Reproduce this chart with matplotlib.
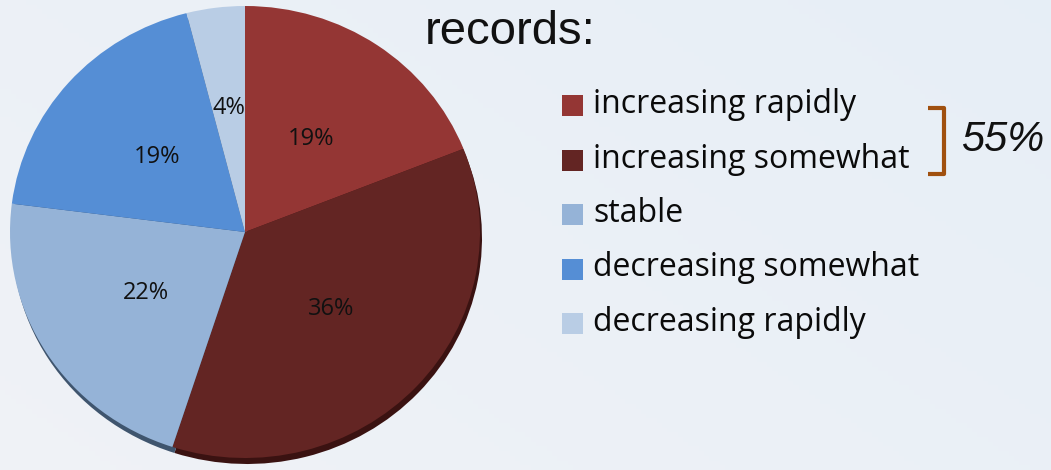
import matplotlib
matplotlib.use("Agg")
import matplotlib.pyplot as plt
import numpy as np
from matplotlib.patches import Rectangle

# Datos del gráfico
categories = ["increasing rapidly", "increasing somewhat", "stable",
              "decreasing somewhat", "decreasing rapidly"]
shares = [19, 36, 22, 19, 4]
colors = ["#943634", "#632523", "#95B3D7", "#558ED5", "#B9CDE5"]
shadow_colors = ["#4a1a19", "#3a1211", "#3f556e", "#2f4f78", "#6a7d92"]
group_label = "55%"
title_text = "records:"

W, H = 1051, 470
fig = plt.figure(figsize=(W / 100, H / 100), dpi=100)

# fondo con degradado suave
bg = fig.add_axes([0, 0, 1, 1])
gx = np.linspace(0, 1, 200)
gy = np.linspace(0, 1, 100)
GX, GY = np.meshgrid(gx, gy)
c0 = np.array([0.940, 0.950, 0.965])
c1 = np.array([0.905, 0.935, 0.965])
t = np.clip(0.6 * GX + 0.4 * (1 - GY), 0, 1)[..., None]
bg.imshow(c0 * (1 - t) + c1 * t, extent=[0, 1, 0, 1], aspect="auto", origin="upper")
bg.axis("off")

# ejes en píxeles; el eje y se estira un poco para que la tarta quede achatada
R, RY = 235, 226
ky = R / RY
ax = fig.add_axes([0, 0, 1, 1])

cx, cy = 245, (470 - 232) * ky

# canto oscuro (efecto 3D)
ax.pie(shares, colors=shadow_colors, startangle=90, counterclock=False,
       center=(cx + 2, cy - 6 * ky), radius=R, frame=True,
       wedgeprops=dict(linewidth=0))

wedges, _, autotexts = ax.pie(
    shares, colors=colors, startangle=90, counterclock=False,
    center=(cx, cy), radius=R, frame=True,
    autopct=lambda p: f"{p:.0f}%", pctdistance=0.5,
    wedgeprops=dict(linewidth=0),
    textprops=dict(fontsize=17, color="#111111", family="Open Sans"))

# la etiqueta del 4 % va algo más afuera, como en el original
w = wedges[-1]
ang = np.deg2rad((w.theta1 + w.theta2) / 2)
autotexts[-1].set_position((cx + 0.555 * R * np.cos(ang), cy + 0.555 * R * np.sin(ang)))

ax.set_xlim(0, W)
ax.set_ylim(0, H * ky)
ax.set_aspect("auto")
ax.axis("off")

# leyenda manual
lx, ly0, dy, sq = 562, 470 - 105.5, 54.5, 21
for i, (lab, col) in enumerate(zip(categories, colors)):
    y = (ly0 - i * dy) * ky
    ax.add_patch(Rectangle((lx, y - sq / 2 * ky), sq, sq * ky,
                           facecolor=col, edgecolor="none"))
    ax.text(lx + 31, y + 1 * ky, lab, ha="left", va="center", fontsize=23,
            family="Open Sans", color="#0a0a0a")

# corchete y 55 %
bc = "#A0500F"
bx, btop, bbot = 944, (470 - 108) * ky, (470 - 174) * ky
ax.plot([928, bx, bx, 928], [btop, btop, bbot, bbot], color=bc, lw=3,
        solid_joinstyle="round", solid_capstyle="butt")
ax.text(961, (470 - 140) * ky, group_label, ha="left", va="center", fontsize=30,
        style="italic", family="Liberation Sans", color="#111111")

ax.text(425, (470 - 32) * ky, title_text, ha="left", va="center", fontsize=34,
        family="Liberation Sans", color="#111111")

fig.savefig("out.png", dpi=100)
